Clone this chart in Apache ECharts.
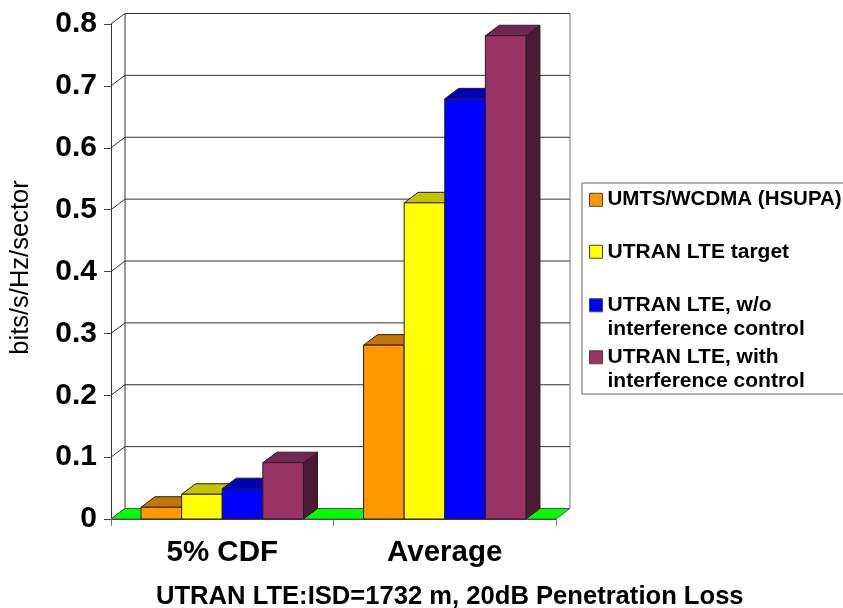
<!DOCTYPE html>
<html><head><meta charset="utf-8">
<style>html,body{margin:0;padding:0;background:#fff;overflow:hidden}#c{width:843px;height:608px}</style>
<script src="https://cdn.jsdelivr.net/npm/echarts@6/dist/echarts.min.js"></script>
</head><body><div id="c"></div>
<script>
const categories = ['5% CDF', 'Average'];
const seriesNames = ['UMTS/WCDMA (HSUPA)', 'UTRAN LTE target', 'UTRAN LTE, w/o\ninterference control', 'UTRAN LTE, with\ninterference control'];
const umts = [0.019, 0.281];
const target = [0.04, 0.511];
const withoutControl = [0.049, 0.679];
const withControl = [0.091, 0.781];
const yTicks = [0, 0.1, 0.2, 0.3, 0.4, 0.5, 0.6, 0.7, 0.8];
const xTitle = 'UTRAN LTE:ISD=1732 m, 20dB Penetration Loss';
const yTitle = 'bits/s/Hz/sector';

const FONT = '"Liberation Sans", Arial, sans-serif';
const DX = 14, DY = 10.5, BAR = 0.1825;
const front = ['#FF9900', '#FFFF00', '#0000FF', '#993366'];
const topC = ['#C47600', '#C4C400', '#0000B4', '#732650'];
const sideC = ['#8F5600', '#8F8F00', '#000080', '#4D1A33'];
const values = [umts, target, withoutControl, withControl];
const LINE = '#2a1a24';

function poly(points, fill, stroke) {
  return {type: 'polygon', shape: {points}, style: {fill, stroke: stroke || LINE, lineWidth: 1}};
}
const barSeries = seriesNames.map((name, s) => ({
  type: 'custom', name, z: 5 + s,
  data: values[s].map((v, i) => [i, v]),
  encode: {x: 0, y: 1},
  itemStyle: {color: front[s]},
  renderItem(params, api) {
    const base = api.coord([api.value(0), 0]);
    const top = api.coord([api.value(0), api.value(1)]);
    const w = api.size([1, 0])[0] * BAR;
    const l = base[0] + (s - 2) * w, r = l + w;
    const b = base[1], t = top[1];
    return {type: 'group', children: [
      poly([[r, t], [r + DX, t - DY], [r + DX, b - DY], [r, b]], sideC[s]),
      poly([[l, t], [l + DX, t - DY], [r + DX, t - DY], [r, t]], topC[s]),
      poly([[l, t], [r, t], [r, b], [l, b]], front[s])
    ]};
  }
}));

const wall = {
  type: 'custom', silent: true, z: 2, legendHoverLink: false,
  data: yTicks.map(v => [0, v]),
  encode: {x: 0, y: 1},
  renderItem(params, api) {
    const band = api.size([1, 0])[0];
    const p = api.coord([0, api.value(1)]);
    const x0 = p[0] - band / 2, x1 = x0 + 2 * band, y = p[1];
    const children = [{type: 'polyline',
      shape: {points: [[x0, y], [x0 + DX, y - DY], [x1 + DX, y - DY]]},
      style: {fill: null, stroke: '#333', lineWidth: 1}}];
    if (api.value(1) === yTicks[yTicks.length - 1]) {
      const y0 = api.coord([0, 0])[1];
      children.push({type: 'line', shape: {x1: x0 + DX, y1: y - DY, x2: x0 + DX, y2: y0 - DY},
        style: {stroke: '#333', lineWidth: 1}});
      children.push({type: 'line', shape: {x1: x1 + DX, y1: y - DY, x2: x1 + DX, y2: y0 - DY},
        style: {stroke: '#777', lineWidth: 1}});
    }
    return {type: 'group', children};
  }
};
const floor = {
  type: 'custom', silent: true, z: 3,
  data: [[0, 0]],
  encode: {x: 0, y: 1},
  renderItem(params, api) {
    const band = api.size([1, 0])[0];
    const p = api.coord([0, 0]);
    const x0 = p[0] - band / 2, x1 = x0 + 2 * band, y = p[1];
    return poly([[x0, y], [x0 + DX, y - DY], [x1 + DX, y - DY], [x1, y]], '#00FF00', '#555');
  }
};

const legendTops = [188, 240, 270, 322];
const legendSizes = [20.5, 21, 21, 21];
const legends = seriesNames.map((name, s) => ({
  show: true, data: [name], selectedMode: false, orient: 'vertical',
  left: 589, top: legendTops[s], padding: 0,
  itemWidth: 13, itemHeight: 13, itemGap: 0,
  icon: 'rect',
  itemStyle: {color: front[s], borderColor: '#444', borderWidth: 1},
  textStyle: {fontFamily: FONT, fontWeight: 'bold', fontSize: legendSizes[s], color: '#000', lineHeight: 23.5},
  formatter: n => n.includes('\n') ? ' \n' + n : n
}));

const chart = echarts.init(document.getElementById('c'), null, {renderer: 'canvas'});
chart.setOption({
  animation: false,
  backgroundColor: '#fff',
  title: {text: xTitle, left: 156, top: 584, padding: 0,
    textStyle: {fontFamily: FONT, fontWeight: 'bold', fontSize: 25.6, color: '#000'}},
  legend: legends,
  grid: {left: 111, top: 24, width: 445, height: 495, containLabel: false, outerBoundsMode: 'none'},
  xAxis: {type: 'category', data: categories,
    axisLine: {lineStyle: {color: '#444', width: 1}},
    axisTick: {show: true, length: 7, lineStyle: {color: '#777'}},
    axisLabel: {fontFamily: FONT, fontWeight: 'bold', fontSize: 29.5, color: '#000', margin: 19}},
  yAxis: {type: 'value', min: 0, max: 0.8, interval: 0.1, name: yTitle, nameLocation: 'middle', nameGap: 77,
    nameRotate: 90,
    nameTextStyle: {fontFamily: FONT, fontSize: 25.5, color: '#000', padding: [0, 0, 0, 8]},
    axisLine: {show: true, lineStyle: {color: '#333', width: 1}},
    axisTick: {show: true, length: 7, lineStyle: {color: '#444'}},
    splitLine: {show: false},
    axisLabel: {fontFamily: FONT, fontWeight: 'bold', fontSize: 30, color: '#000', margin: 14,
      formatter: v => v === 0 ? '0' : v.toFixed(1)}},
  graphic: [{type: 'rect', shape: {x: 582, y: 183, width: 270, height: 211},
    style: {fill: '#fff', stroke: '#666', lineWidth: 1}, z: 0}],
  series: [wall, floor, ...barSeries]
});
</script></body></html>
